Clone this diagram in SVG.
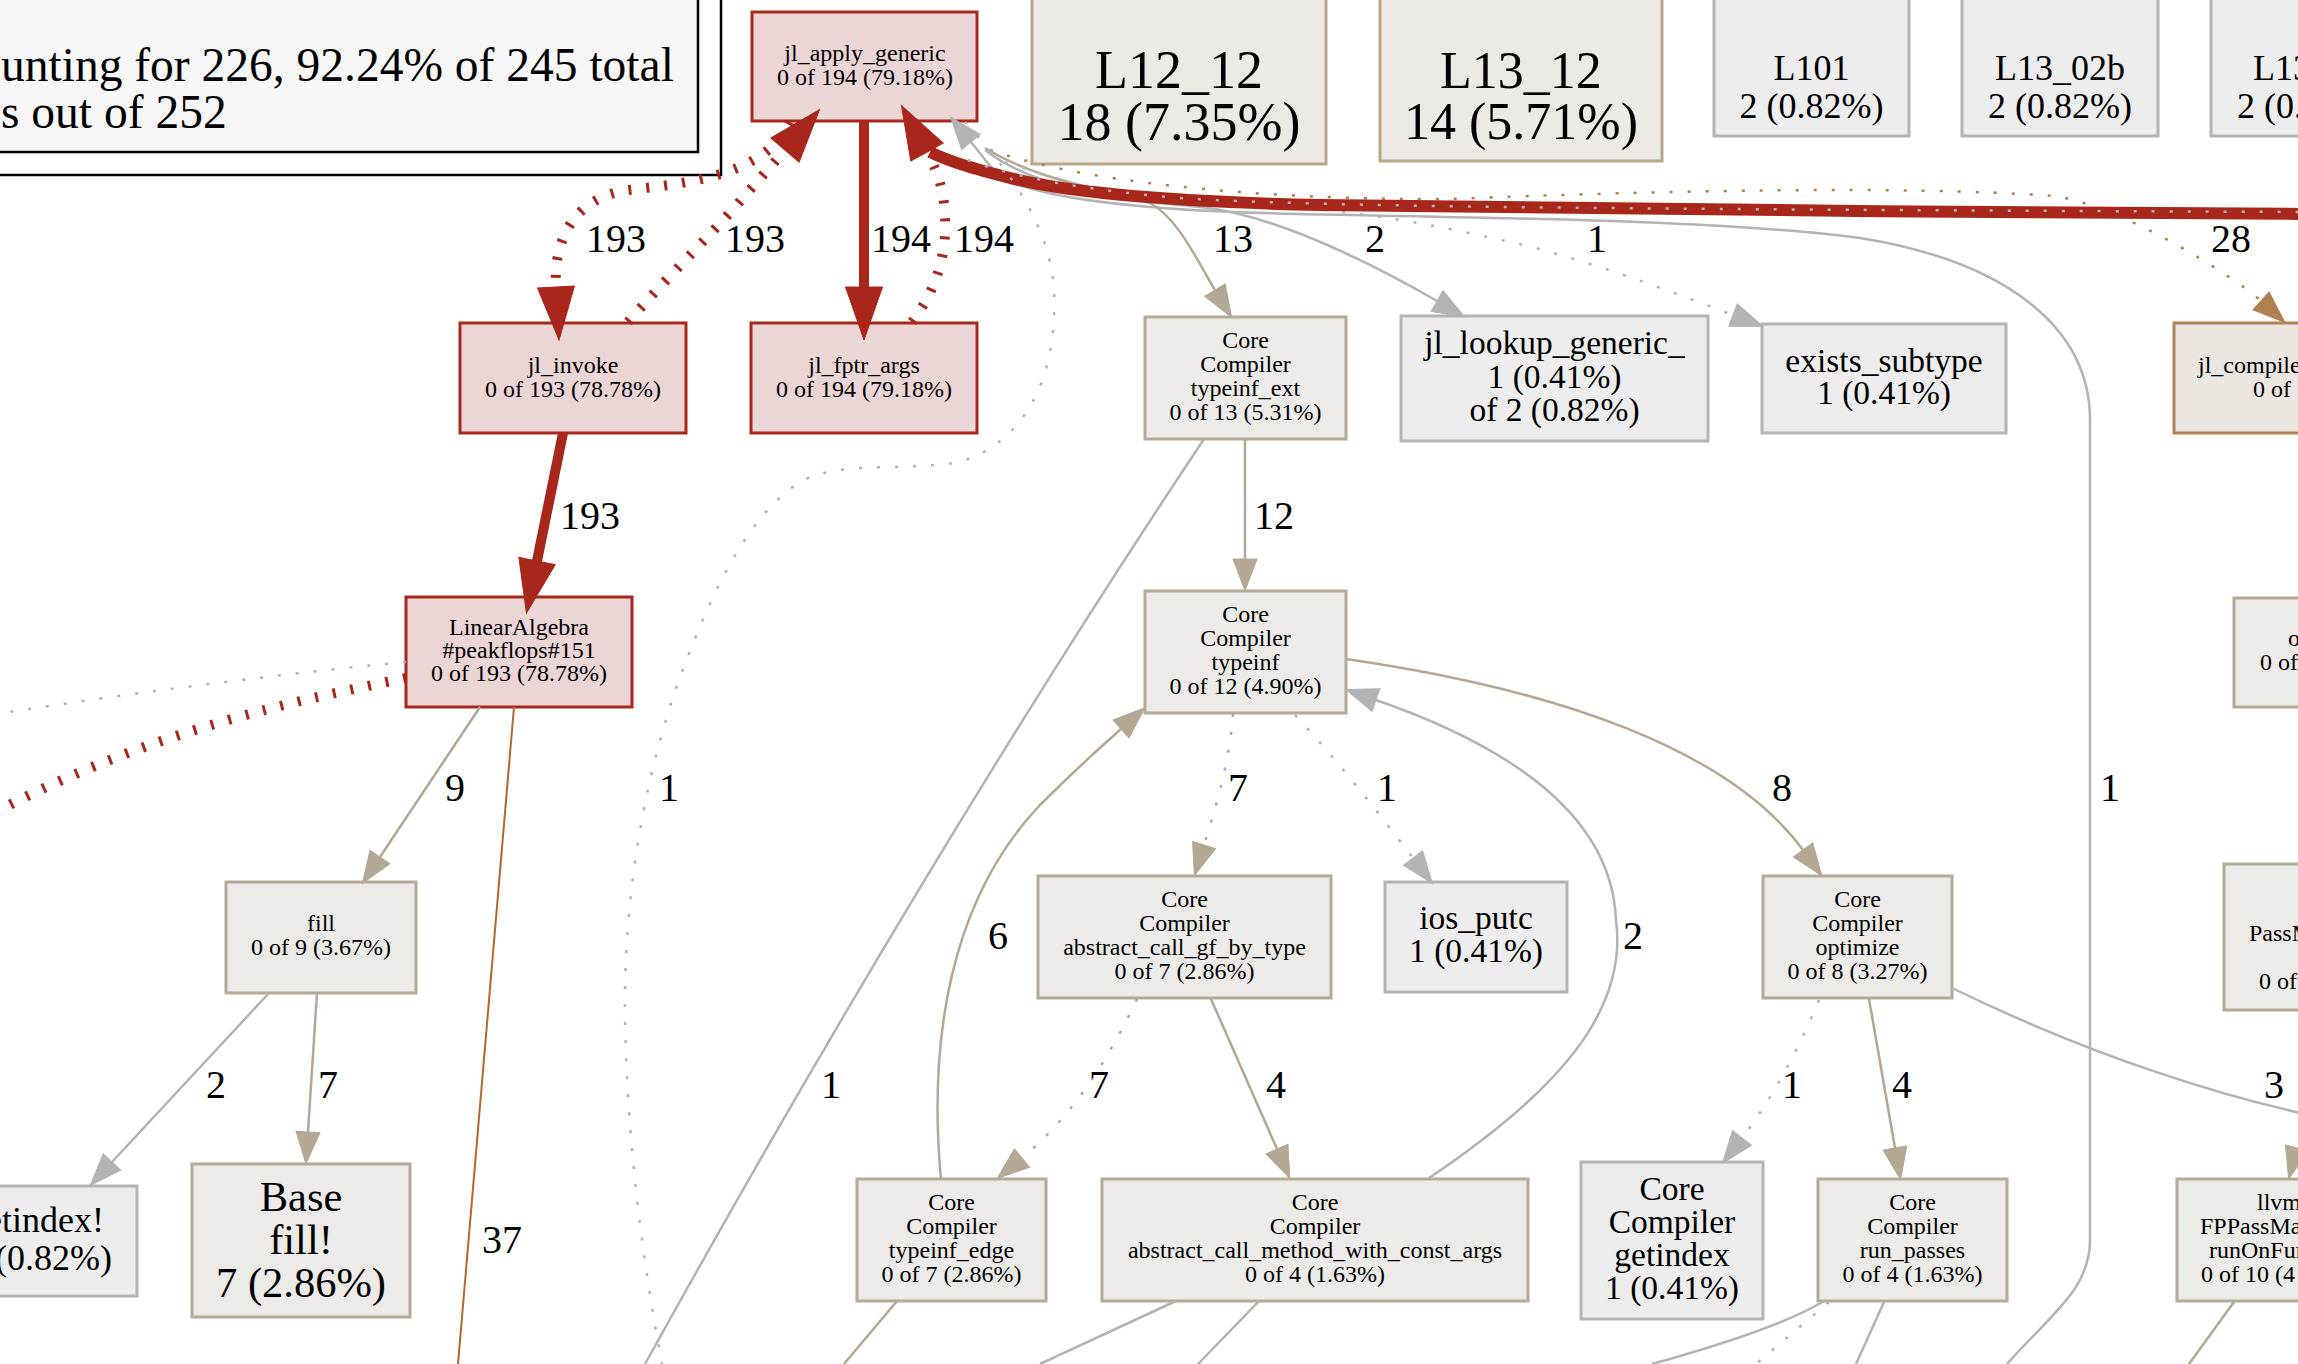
<svg xmlns="http://www.w3.org/2000/svg" width="2298" height="1364" viewBox="0 0 2298 1364">
<style>
text{font-family:"Liberation Serif","Times New Roman",serif;fill:#000}
.c{text-anchor:middle}
.s24{font-size:24px}
.s33{font-size:33.5px}
.s36{font-size:36px}
.lbl{font-size:40px}
.nr{fill:#ebd6d5;stroke:#a8281a;stroke-width:3}
.nt{fill:#ecebe8;stroke:#b4aa98;stroke-width:3}
.nb{fill:#edeae5;stroke:#b8a689;stroke-width:3}
.ng{fill:#ededed;stroke:#b4b4b4;stroke-width:3}
.nbr{fill:#ece6e0;stroke:#b08255;stroke-width:3}
.e{fill:none;stroke-width:2.5}
.red{stroke:#a8261a}
.tan{stroke:#b2a894}
.gray{stroke:#b3b3b3}
.brown{stroke:#b08050}
.orange{stroke:#b5692e;stroke-width:2}
.dot{stroke-dasharray:3 15}
.rdot{stroke-width:10;stroke-dasharray:3 15}
.thick{stroke-width:10}
.band{stroke-width:12}
</style>
<defs>
<marker id="ar" markerUnits="userSpaceOnUse" markerWidth="60" markerHeight="40" refX="0" refY="0" orient="auto" overflow="visible"><path d="M0,-18.5 L53,0 L0,18.5 Z" fill="#a8261a" stroke="#a8261a" stroke-width="1"/></marker>
<marker id="at" markerUnits="userSpaceOnUse" markerWidth="40" markerHeight="30" refX="0" refY="0" orient="auto" overflow="visible"><path d="M0,-12 L32,0 L0,12 Z" fill="#b2a894" stroke="#b2a894" stroke-width="1"/></marker>
<marker id="ag" markerUnits="userSpaceOnUse" markerWidth="40" markerHeight="30" refX="0" refY="0" orient="auto" overflow="visible"><path d="M0,-12 L32,0 L0,12 Z" fill="#b3b3b3" stroke="#b3b3b3" stroke-width="1"/></marker>
<marker id="ab" markerUnits="userSpaceOnUse" markerWidth="40" markerHeight="30" refX="0" refY="0" orient="auto" overflow="visible"><path d="M0,-12 L32,0 L0,12 Z" fill="#b08050" stroke="#b08050" stroke-width="1"/></marker>
</defs>

<g id="legend">
<rect x="-10" y="-10" width="731" height="185" fill="#ffffff" stroke="#000" stroke-width="2.5"/>
<rect x="-10" y="-10" width="708" height="162" fill="#f7f7f7" stroke="#000" stroke-width="2.5"/>
<text x="1" y="81" font-size="47.5">unting for 226, 92.24% of 245 total</text>
<text x="1" y="128" font-size="47.5">s out of 252</text>
</g>

<g id="nodes">
<g id="n_jl_apply_generic"><rect class="nr" x="752" y="12" width="225" height="109"/><text class="c s24" x="865" y="61">jl_apply_generic</text><text class="c s24" x="865" y="85">0 of 194 (79.18%)</text></g>
<g id="n_L12_12"><rect class="nb" x="1032" y="-10" width="294" height="174"/><text class="c" font-size="54" x="1179" y="88">L12_12</text><text class="c" font-size="54" x="1179" y="140">18 (7.35%)</text></g>
<g id="n_L13_12"><rect class="nb" x="1380" y="-10" width="282" height="171"/><text class="c" font-size="52" x="1521" y="88">L13_12</text><text class="c" font-size="52" x="1521" y="139">14 (5.71%)</text></g>
<g id="n_L101"><rect class="ng" x="1714" y="-10" width="195" height="146"/><text class="c s36" x="1811.5" y="80">L101</text><text class="c s36" x="1811.5" y="118">2 (0.82%)</text></g>
<g id="n_L13_02b"><rect class="ng" x="1962" y="-10" width="196" height="146"/><text class="c s36" x="2060" y="80">L13_02b</text><text class="c s36" x="2060" y="118">2 (0.82%)</text></g>
<g id="n_L13_x"><rect class="ng" x="2211" y="-10" width="200" height="146"/><text class="s36" x="2253" y="80">L13</text><text class="s36" x="2237" y="118">2 (0.82%)</text></g>
<g id="n_jl_invoke"><rect class="nr" x="460" y="323" width="226" height="110"/><text class="c s24" x="573" y="373">jl_invoke</text><text class="c s24" x="573" y="397">0 of 193 (78.78%)</text></g>
<g id="n_jl_fptr_args"><rect class="nr" x="751" y="323" width="226" height="110"/><text class="c s24" x="864" y="373">jl_fptr_args</text><text class="c s24" x="864" y="397">0 of 194 (79.18%)</text></g>
<g id="n_typeinf_ext"><rect class="nt" x="1145" y="317" width="201" height="122"/><text class="c s24" x="1245.5" y="348">Core</text><text class="c s24" x="1245.5" y="372">Compiler</text><text class="c s24" x="1245.5" y="396">typeinf_ext</text><text class="c s24" x="1245.5" y="420">0 of 13 (5.31%)</text></g>
<g id="n_jl_lookup_generic"><rect class="ng" x="1401" y="316" width="307" height="125"/><text class="c s33" x="1554.5" y="354">jl_lookup_generic_</text><text class="c s33" x="1554.5" y="388">1 (0.41%)</text><text class="c s33" x="1554.5" y="421">of 2 (0.82%)</text></g>
<g id="n_exists_subtype"><rect class="ng" x="1762" y="324" width="244" height="109"/><text class="c s33" x="1884" y="372">exists_subtype</text><text class="c s33" x="1884" y="404">1 (0.41%)</text></g>
<g id="n_jl_compile"><rect class="nbr" x="2174" y="323" width="200" height="110"/><text class="s24" x="2198" y="373">jl_compile</text><text class="s24" x="2253" y="397">0 of</text></g>
<g id="n_LinearAlgebra"><rect class="nr" x="406" y="597" width="226" height="110"/><text class="c s24" x="519" y="635">LinearAlgebra</text><text class="c s24" x="519" y="658">#peakflops#151</text><text class="c s24" x="519" y="681">0 of 193 (78.78%)</text></g>
<g id="n_typeinf"><rect class="nt" x="1145" y="591" width="201" height="122"/><text class="c s24" x="1245.5" y="622">Core</text><text class="c s24" x="1245.5" y="646">Compiler</text><text class="c s24" x="1245.5" y="670">typeinf</text><text class="c s24" x="1245.5" y="694">0 of 12 (4.90%)</text></g>
<g id="n_o"><rect class="nt" x="2234" y="598" width="150" height="109"/><text class="s24" x="2288" y="646">o</text><text class="s24" x="2260" y="670">0 of</text></g>
<g id="n_fill"><rect class="nt" x="226" y="882" width="190" height="111"/><text class="c s24" x="321" y="931">fill</text><text class="c s24" x="321" y="955">0 of 9 (3.67%)</text></g>
<g id="n_gf_by_type"><rect class="nt" x="1038" y="876" width="293" height="122"/><text class="c s24" x="1184.5" y="907">Core</text><text class="c s24" x="1184.5" y="931">Compiler</text><text class="c s24" x="1184.5" y="955">abstract_call_gf_by_type</text><text class="c s24" x="1184.5" y="979">0 of 7 (2.86%)</text></g>
<g id="n_ios_putc"><rect class="ng" x="1385" y="882" width="182" height="110"/><text class="c s33" x="1476" y="929">ios_putc</text><text class="c s33" x="1476" y="962">1 (0.41%)</text></g>
<g id="n_optimize"><rect class="nt" x="1763" y="876" width="189" height="122"/><text class="c s24" x="1857.5" y="907">Core</text><text class="c s24" x="1857.5" y="931">Compiler</text><text class="c s24" x="1857.5" y="955">optimize</text><text class="c s24" x="1857.5" y="979">0 of 8 (3.27%)</text></g>
<g id="n_PassM"><rect class="nt" x="2224" y="864" width="150" height="146"/><text class="s24" x="2249" y="941">PassM</text><text class="s24" x="2259" y="989">0 of</text></g>
<g id="n_setindex"><rect class="ng" x="-60" y="1186" width="197" height="110"/><text class="s36" text-anchor="end" x="104" y="1232">etindex!</text><text class="s36" text-anchor="end" x="112" y="1270">(0.82%)</text></g>
<g id="n_base_fill"><rect class="nt" x="192" y="1164" width="218" height="153"/><text class="c" font-size="42.5" x="301" y="1211">Base</text><text class="c" font-size="42.5" x="301" y="1254">fill!</text><text class="c" font-size="42.5" x="301" y="1297">7 (2.86%)</text></g>
<g id="n_typeinf_edge"><rect class="nt" x="857" y="1179" width="189" height="122"/><text class="c s24" x="951.5" y="1210">Core</text><text class="c s24" x="951.5" y="1234">Compiler</text><text class="c s24" x="951.5" y="1258">typeinf_edge</text><text class="c s24" x="951.5" y="1282">0 of 7 (2.86%)</text></g>
<g id="n_const_args"><rect class="nt" x="1102" y="1179" width="426" height="122"/><text class="c s24" x="1315" y="1210">Core</text><text class="c s24" x="1315" y="1234">Compiler</text><text class="c s24" x="1315" y="1258">abstract_call_method_with_const_args</text><text class="c s24" x="1315" y="1282">0 of 4 (1.63%)</text></g>
<g id="n_getindex"><rect class="ng" x="1581" y="1162" width="182" height="157"/><text class="c s33" x="1672" y="1200">Core</text><text class="c s33" x="1672" y="1233">Compiler</text><text class="c s33" x="1672" y="1266">getindex</text><text class="c s33" x="1672" y="1299">1 (0.41%)</text></g>
<g id="n_run_passes"><rect class="nt" x="1818" y="1179" width="189" height="122"/><text class="c s24" x="1912.5" y="1210">Core</text><text class="c s24" x="1912.5" y="1234">Compiler</text><text class="c s24" x="1912.5" y="1258">run_passes</text><text class="c s24" x="1912.5" y="1282">0 of 4 (1.63%)</text></g>
<g id="n_llvm"><rect class="nt" x="2177" y="1179" width="200" height="122"/><text class="s24" x="2257" y="1210">llvm</text><text class="s24" x="2200" y="1234">FPPassMa</text><text class="s24" x="2209" y="1258">runOnFun</text><text class="s24" x="2201" y="1282">0 of 10 (4</text></g>
</g>

<g id="connectors">
<path class="e brown dot" d="M990,150 C1100,188 1300,200 1450,199 C1650,191 1900,185 2054,196 C2120,205 2231,274 2261,301" marker-end="url(#ab)"/>
<path class="e gray" d="M2007,1364 C2050,1315 2090,1290 2090,1240 L2090,420 C2090,330 2010,262 1860,238 C1720,220 1500,218 1300,214 C1140,211 1040,198 1000,177 C990,167 980,153 971,142" marker-end="url(#ag)"/>
<path class="e gray" d="M985,150 C1030,185 1100,198 1200,207 C1280,215 1385,271 1437,301" marker-end="url(#ag)"/>
<path class="e tan" d="M985,148 C1040,182 1110,190 1150,203 C1178,218 1198,262 1215,290" marker-end="url(#at)"/>
<path class="e gray dot" d="M990,152 C1050,188 1150,200 1300,208 C1380,214 1450,228 1532,247 C1610,268 1680,295 1733,315" marker-end="url(#ag)"/>
<path class="e red band" d="M2310,214 C2000,212 1600,210 1320,205 C1180,202 1070,193 1010,178 C975,169 950,162 930,152"/>
<path class="e gray dot" d="M968,160 C1000,172 1060,188 1180,198 C1320,207 1600,209 2310,212"/>
<path class="e red rdot" d="M790,122 C765,175 690,183 628,190 C578,197 553,235 556,287" marker-end="url(#ar)"/>
<path class="e red rdot" d="M628,322 C672,272 718,228 748,192 C762,176 773,164 785,150" marker-end="url(#ar)"/>
<path class="e red thick" d="M864,121 L864,287" marker-end="url(#ar)"/>
<path class="e red rdot" d="M912,322 C935,292 947,255 945,218 C944,190 938,172 927,152" marker-end="url(#ar)"/>
<path class="e red thick" d="M563,433 L537,561" marker-end="url(#ar)"/>
<path class="e gray dot" d="M965,122 C1000,160 1050,220 1054,290 C1058,370 1030,440 960,462 C900,472 840,460 800,482 C740,520 700,620 672,700 C640,800 620,920 626,1050 C630,1180 650,1300 662,1364"/>
<path class="e red rdot" d="M406,678 C300,700 150,730 -10,815"/>
<path class="e gray dot" d="M406,662 C300,672 150,690 -10,715"/>
<path class="e tan" d="M480,707 L380,857" marker-end="url(#at)"/>
<path class="e orange" d="M514,707 L458,1364"/>
<path class="e gray" d="M269,993 L112,1162" marker-end="url(#ag)"/>
<path class="e tan" d="M317,993 L308,1132" marker-end="url(#at)"/>
<path class="e tan" d="M1245,439 L1245,559" marker-end="url(#at)"/>
<path class="e gray" d="M1204,439 Q930,850 645,1364"/>
<path class="e tan dot" d="M1233,714 C1230,760 1215,810 1204,845" marker-end="url(#at)"/>
<path class="e gray dot" d="M1295,715 C1330,752 1375,808 1413,858" marker-end="url(#ag)"/>
<path class="e tan" d="M1346,659 C1560,690 1730,750 1803,850" marker-end="url(#at)"/>
<path class="e tan" d="M941,1180 C928,1040 950,900 1040,805 C1070,775 1095,752 1121,729" marker-end="url(#at)"/>
<path class="e tan dot" d="M1137,999 C1115,1045 1080,1110 1022,1158" marker-end="url(#at)"/>
<path class="e tan" d="M1211,999 L1277,1149" marker-end="url(#at)"/>
<path class="e gray" d="M1429,1178 C1560,1090 1628,1010 1616,920 C1612,820 1520,750 1376,700" marker-end="url(#ag)"/>
<path class="e gray dot" d="M1819,1000 C1800,1045 1775,1095 1742,1138" marker-end="url(#ag)"/>
<path class="e tan" d="M1869,999 L1895,1148" marker-end="url(#at)"/>
<path class="e gray" d="M1952,988 C2100,1060 2230,1098 2310,1115"/>
<path class="e tan dot" d="M2305,1118 L2297,1148" marker-end="url(#at)"/>
<path class="e tan" d="M897,1301 L844,1364"/>
<path class="e gray" d="M1176,1301 L1040,1364"/>
<path class="e gray" d="M1259,1301 L1198,1364"/>
<path class="e gray" d="M1824,1301 C1790,1322 1720,1345 1652,1364"/>
<path class="e gray dot" d="M1829,1302 L1756,1364"/>
<path class="e gray" d="M1884,1302 L1856,1364"/>
<path class="e tan" d="M2234,1302 L2189,1364"/>
</g>

<g id="edge-labels" class="lbl">
<text x="586" y="252">193</text>
<text x="725" y="252">193</text>
<text x="871" y="252">194</text>
<text x="954" y="252">194</text>
<text x="1213" y="252">13</text>
<text x="1365" y="252">2</text>
<text x="1587" y="252">1</text>
<text x="2211" y="252">28</text>
<text x="560" y="529">193</text>
<text x="1254" y="529">12</text>
<text x="445" y="801">9</text>
<text x="659" y="801">1</text>
<text x="1228" y="801">7</text>
<text x="1377" y="801">1</text>
<text x="1772" y="801">8</text>
<text x="2100" y="801">1</text>
<text x="988" y="949">6</text>
<text x="1623" y="949">2</text>
<text x="206" y="1098">2</text>
<text x="318" y="1098">7</text>
<text x="821" y="1098">1</text>
<text x="1089" y="1098">7</text>
<text x="1266" y="1098">4</text>
<text x="1782" y="1098">1</text>
<text x="1892" y="1098">4</text>
<text x="2264" y="1098">3</text>
<text x="482" y="1253">37</text>
</g>
</svg>
